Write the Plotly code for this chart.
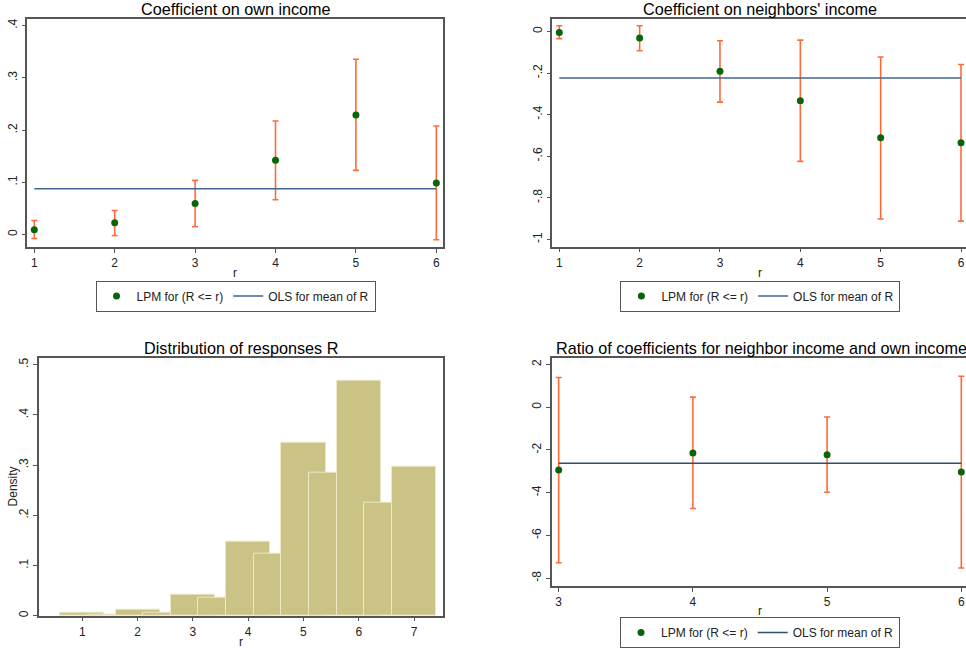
import plotly.graph_objects as go

W, H = 966, 648

# ---------------- data ----------------
r_vals = [1, 2, 3, 4, 5, 6]

own_coef = [0.0089, 0.0224, 0.0594, 0.1419, 0.2288, 0.0984]
own_upper = [0.0268, 0.0460, 0.1035, 0.2173, 0.3355, 0.2077]
own_lower = [-0.0077, -0.0019, 0.0147, 0.0665, 0.1227, -0.0102]
own_ols = 0.0875

nb_coef = [-0.005, -0.032, -0.192, -0.333, -0.511, -0.535]
nb_upper = [0.027, 0.027, -0.045, -0.042, -0.123, -0.159]
nb_lower = [-0.035, -0.093, -0.340, -0.625, -0.902, -0.912]
nb_ols = -0.224

ratio_r = [3, 4, 5, 6]
ratio_coef = [-2.94, -2.14, -2.22, -3.03]
ratio_upper = [1.39, 0.47, -0.46, 1.45]
ratio_lower = [-7.27, -4.74, -3.98, -7.52]
ratio_ols = -2.62

hist_x = [1, 2, 3, 4, 5, 6, 7]
hist_density = [0.0068, 0.0113, 0.0425, 0.1467, 0.344, 0.4675, 0.296]
hist2_x = [1.35, 2.35, 3.35, 4.35, 5.35, 6.35]
hist2_density = [0.0025, 0.0066, 0.036, 0.123, 0.2855, 0.2258]

own_ticks = [0, 0.1, 0.2, 0.3, 0.4]
own_ticktext = ["0", ".1", ".2", ".3", ".4"]
nb_ticks = [0, -0.2, -0.4, -0.6, -0.8, -1]
nb_ticktext = ["0", "-.2", "-.4", "-.6", "-.8", "-1"]
ratio_ticks = [2, 0, -2, -4, -6, -8]
ratio_ticktext = ["2", "0", "-2", "-4", "-6", "-8"]
dens_ticks = [0, 0.1, 0.2, 0.3, 0.4, 0.5]
dens_ticktext = ["0", ".1", ".2", ".3", ".4", ".5"]

# ---------------- styles ----------------
FONT = "Liberation Sans, Arial, sans-serif"
GREEN = "#0a640a"
ORANGE = "#ff6a3a"
BLUE = "#40668f"
BLUE_DARK = "#2f4d6e"
KHAKI = "#cbc385"
AXIS = "#555555"

fig = go.Figure()


def err(upper, lower, y):
    return dict(type="data", symmetric=False,
                array=[u - v for u, v in zip(upper, y)],
                arrayminus=[v - l for v, l in zip(y, lower)],
                color=ORANGE, thickness=1.6, width=3)


def add_panel(x, y, upper, lower, ols, xa, ya, legend, ols_color):
    fig.add_trace(go.Scatter(
        x=x, y=y, mode="markers", name="LPM for (R <= r)",
        marker=dict(color=GREEN, size=7),
        error_y=err(upper, lower, y),
        xaxis=xa, yaxis=ya, legend=legend))
    fig.add_trace(go.Scatter(
        x=[x[0], x[-1]], y=[ols, ols], mode="lines", name="OLS for mean of R",
        line=dict(color=ols_color, width=1.5),
        xaxis=xa, yaxis=ya, legend=legend))


add_panel(r_vals, own_coef, own_upper, own_lower, own_ols, "x", "y", "legend", BLUE)
add_panel(r_vals, nb_coef, nb_upper, nb_lower, nb_ols, "x2", "y2", "legend2", BLUE)
add_panel(ratio_r, ratio_coef, ratio_upper, ratio_lower, ratio_ols, "x4", "y4", "legend3", BLUE_DARK)

fig.add_trace(go.Bar(x=hist_x, y=hist_density, width=0.8,
                     marker=dict(color=KHAKI, line=dict(color="#ebe7c8", width=1)),
                     showlegend=False, xaxis="x3", yaxis="y3"))
fig.add_trace(go.Bar(x=hist2_x, y=hist2_density, width=0.5,
                     marker=dict(color=KHAKI, line=dict(color="#ebe7c8", width=1)),
                     showlegend=False, xaxis="x3", yaxis="y3"))


def px_x(p):
    return p / W


def px_y(p):
    return 1 - p / H


def xaxis(anchor, domain, rng, tickvals, mirror=True):
    return dict(anchor=anchor, domain=domain, range=rng, tickvals=tickvals,
                ticktext=[str(t) for t in tickvals],
                showgrid=False, zeroline=False, showline=True, linecolor=AXIS,
                linewidth=1.5, mirror=mirror, ticks="outside", ticklen=4,
                tickcolor=AXIS, tickwidth=1, tickfont=dict(size=12, color="#222"),
                fixedrange=True)


def yaxis(anchor, domain, rng, tickvals, ticktext, mirror=True):
    return dict(anchor=anchor, domain=domain, range=rng, tickvals=tickvals, ticktext=ticktext,
                showgrid=False, zeroline=False, showline=True, linecolor=AXIS,
                linewidth=1.5, mirror=mirror, ticks="outside", ticklen=4,
                tickcolor=AXIS, tickwidth=1, tickangle=-90,
                tickfont=dict(size=12, color="#222"), fixedrange=True)


legend_style = dict(orientation="h", xanchor="center",
                    bordercolor=AXIS, borderwidth=1, bgcolor="white",
                    font=dict(size=12, color="#222", family=FONT),
                    tracegroupgap=0, itemwidth=30)

fig.update_layout(
    width=W, height=H, margin=dict(l=0, r=0, t=0, b=0, autoexpand=False),
    paper_bgcolor="white", plot_bgcolor="white",
    font=dict(family=FONT, color="#222"),
    barmode="overlay", bargap=0,
    xaxis=xaxis("y", [px_x(27.3), px_x(443)], [0.913, 6.083], r_vals),
    yaxis=yaxis("x", [px_y(247), px_y(19)], [-0.024, 0.4125], own_ticks, own_ticktext),
    xaxis2=xaxis("y2", [px_x(552.3), 1.0], [0.913, 6.062], r_vals),
    yaxis2=yaxis("x2", [px_y(246.7), px_y(18.7)], [-1.035, 0.061], nb_ticks, nb_ticktext, mirror=False),
    xaxis3=xaxis("y3", [px_x(39), px_x(443.3)], [0.216, 7.53], hist_x),
    yaxis3=yaxis("x3", [px_y(615.7), px_y(357.7)], [0, 0.514], dens_ticks, dens_ticktext),
    xaxis4=xaxis("y4", [px_x(551.7), 1.0], [2.948, 6.035], ratio_r),
    yaxis4=yaxis("x4", [px_y(586), px_y(358)], [-8.36, 2.30], ratio_ticks, ratio_ticktext, mirror=False),
    legend=dict(legend_style, x=px_x(235.5), y=px_y(296), yanchor="middle"),
    legend2=dict(legend_style, x=px_x(760.4), y=px_y(296), yanchor="middle"),
    legend3=dict(legend_style, x=px_x(760), y=0, yanchor="bottom"),
    showlegend=True,
)

titles = [
    ("Coefficient on own income", 235.5, 8.5),
    ("Coefficient on neighbors' income", 760, 8.5),
    ("Distribution of responses R", 241, 347.5),
    ("Ratio of coefficients for neighbor income and own income", 761, 347.5),
]
for text, cx, cy in titles:
    fig.add_annotation(text=text, x=px_x(cx), y=px_y(cy), xref="paper", yref="paper",
                       xanchor="center", yanchor="middle", showarrow=False,
                       font=dict(size=16.2, color="black", family=FONT))

axis_titles = [
    ("r", 235, 273, 0),
    ("r", 760, 273, 0),
    ("r", 240.7, 642, 0),
    ("r", 760, 611, 0),
    ("Density", 12.7, 486.7, -90),
]
for text, cx, cy, ang in axis_titles:
    fig.add_annotation(text=text, x=px_x(cx), y=px_y(cy), xref="paper", yref="paper",
                       xanchor="center", yanchor="middle", showarrow=False, textangle=ang,
                       font=dict(size=12, color="#222", family=FONT))

fig.write_html(
    "out.html",
    config={"displayModeBar": False},
    post_script="document.body.style.margin='0';document.body.style.overflow='hidden';",
)
